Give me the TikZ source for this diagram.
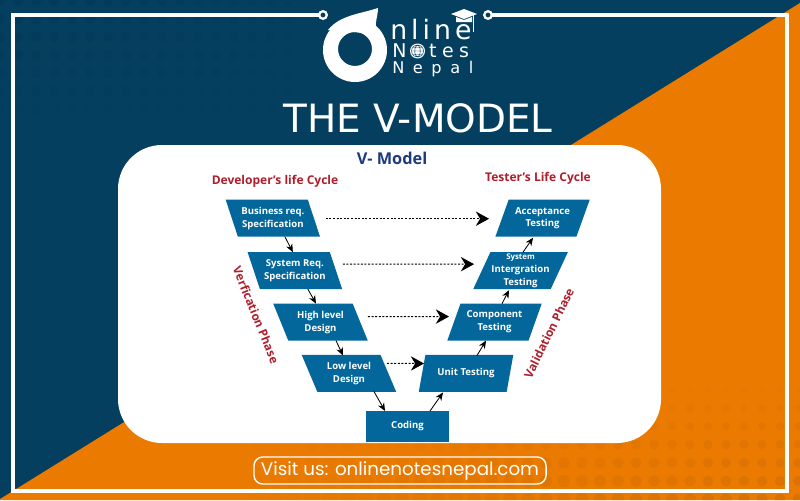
\documentclass[tikz,border=0pt]{standalone}
\usepackage{fontspec}
\setmainfont{Open Sans}
\newfontfamily\titlefont{DejaVu Sans}
\newfontfamily\visitfont{Poppins}
\usepackage{xcolor}
\usetikzlibrary{arrows.meta, positioning, shapes.geometric, calc}
\definecolor{navybg}{HTML}{043F5F}
\definecolor{navydot}{HTML}{033959}
\definecolor{orangebg}{HTML}{EA7A00}
\definecolor{orangedot}{HTML}{D87104}
\definecolor{boxblue}{HTML}{04679C}
\definecolor{headblue}{HTML}{1D3B7C}
\definecolor{headred}{HTML}{B01E2C}

\begin{document}
\begin{tikzpicture}[
    x=0.025cm, y=-0.025cm,
    stagebox/.style={fill=boxblue, text=white, align=center, inner sep=0pt, outer sep=0pt, trapezium stretches=true, shape=trapezium, minimum width=2.37cm, minimum height=0.925cm, font=\fontsize{6.8}{9.2}\selectfont\bfseries},
    devbox/.style={stagebox, trapezium left angle=116, trapezium right angle=64},
    testbox/.style={stagebox, trapezium left angle=64, trapezium right angle=116},
    codebox/.style={fill=boxblue, text=white, inner sep=0pt, outer sep=0pt, minimum width=2.075cm, minimum height=0.775cm, font=\fontsize{6.8}{9.2}\selectfont\bfseries},
    flow/.style={-{Stealth[length=0.2cm, width=0.17cm]}, line width=0.6pt},
    dotflow/.style={-{Stealth[length=0.33cm, width=0.36cm]}, line width=0.7pt, dash pattern=on 0.05cm off 0.04cm},
    cycle label/.style={text=headred, font=\fontsize{8.55}{11}\selectfont\bfseries},
    phase label/.style={text=headred, font=\fontsize{8.4}{11}\selectfont\bfseries},
    logo text/.style={text=white, anchor=west, inner sep=0pt}
]
\useasboundingbox (0,0) rectangle (800,500);
\fill[navybg] (0,0) rectangle (800,500);
\begin{scope}
\clip (0,0) -- (800,3) -- (0,499) -- cycle;
\foreach \col in {0,...,16} \foreach \row in {0,...,6}
  \fill[navydot, opacity={(1-\row/7)*(1-\col/20)}] ({\col*18},{\row*18+1}) circle (5);
\end{scope}
\fill[orangebg] (800,3) -- (800,500) -- (0,500) -- (0,499) -- cycle;
\begin{scope}
\clip (800,3) -- (800,500) -- (0,500) -- (0,499) -- cycle;
\foreach \col in {0,...,30} \foreach \row in {0,...,6}
  \fill[orangedot, opacity={(0.15+\row/7.5)*(1-\col/31)}] ({798-\col*18},{390+\row*18.2}) circle ({3+0.4*\row+\col/12});
\end{scope}

\draw[white, line width=2.8pt] (323,15) -- (13,15) -- (13,491) -- (787,491) -- (787,15) -- (488,15);
\draw[white, line width=1.6pt, fill=navybg] (323,15) circle (3.8) (488,15) circle (3.8);
\fill[white, rounded corners=1.1cm] (118,145) rectangle (661,443);

\fill[white, even odd rule] (355,50) circle (32) (355,49) circle (17);
\fill[white] (328,30) .. controls (340,15) and (360,14) .. (378,8) .. controls (378,18) and (372,28) .. (380,34) -- cycle;
\node[logo text, font=\titlefont\fontsize{19}{19}\selectfont\addfontfeature{LetterSpace=15}] (logoline) at (390,30) {nline};
\node[logo text, font=\titlefont\fontsize{13.5}{14}\selectfont\addfontfeature{LetterSpace=29}] (logonotes) at (392,51) {Notes};
\node[logo text, font=\titlefont\fontsize{11.5}{12}\selectfont\addfontfeature{LetterSpace=53}] (logonepal) at (392,69) {Nepal};
\fill[white] (451,14) -- (464,9) -- (477,14) -- (464,19) -- cycle (456,17) -- (464,20) -- (472,17) -- (472,22) -- (456,22) -- cycle;
\draw[white, line width=0.6pt] (473,15) -- (473,32);
\fill[white] (417.5,51) circle (7.5);
\draw[navybg, line width=0.35pt] (417.5,51) circle (6) (417.5,51) ellipse (2.7 and 6) (411.5,51) -- (423.5,51) (412.5,47.5) -- (422.5,47.5) (412.5,54.5) -- (422.5,54.5);

\node[text=white, font=\titlefont\fontsize{27.7}{30}\selectfont] (title) at (418,118) {THE V-MODEL};
\node[text=headblue, font=\fontsize{11.6}{13}\selectfont\bfseries] (vmodel) at (392,158) {V- Model};
\node[cycle label] (devcycle) at (275,181) {Developer's life Cycle};
\node[cycle label] (testcycle) at (538,178) {Tester's Life Cycle};
\node[phase label, rotate=-68] (verif) at (256,315) {Verfication Phase};
\node[phase label, rotate=64] (valid) at (549,333) {Validation Phase};

\node[codebox] (coding) at (407.5,426.5) {Coding};
\node[devbox, above=0.475cm of coding, xshift=-1.4625cm] (low) {Low level\\Design};
\node[devbox, above=0.36cm of low, xshift=-0.7125cm] (high) {High level\\Design};
\node[devbox, above=0.36cm of high, xshift=-0.64cm] (sysreq) {System Req.\\Specification};
\node[devbox, above=0.385cm of sysreq, xshift=-0.55cm] (business) {Business req.\\Specification};
\node[testbox, above=0.475cm of coding, xshift=1.4625cm] (unit) {Unit Testing};
\node[testbox, above=0.36cm of unit, xshift=0.7125cm] (component) {Component\\Testing};
\node[testbox, above=0.36cm of component, xshift=0.65cm] (integration) {{\fontsize{5.6}{7}\selectfont System}\\Intergration\\Testing};
\node[testbox, above=0.385cm of integration, xshift=0.55cm] (acceptance) {Acceptance\\Testing};

\draw[flow] ($(business)+(12,18.5)$) -- ($(sysreq)+(-2,-18.5)$);
\draw[flow] ($(sysreq)+(13,18.5)$) -- ($(high)+(-4.5,-18.5)$);
\draw[flow] ($(high)+(15.5,18.5)$) -- ($(low)+(-6,-18)$);
\draw[flow] ($(low)+(25,18)$) -- ($(coding)+(-22.5,-15.5)$);
\draw[flow] ($(coding)+(22.5,-15.5)$) -- ($(unit)+(-23,19)$);
\draw[flow] ($(unit)+(11,-18)$) -- ($(component)+(-8.5,18.5)$);
\draw[flow] ($(component)+(7.5,-18.5)$) -- ($(integration)+(-11.5,19.5)$);
\draw[flow] ($(integration)+(2.5,-18.5)$) -- ($(acceptance)+(-9.5,19.5)$);
\draw[dotflow] ($(business)+(53,0.5)$) -- ($(acceptance)+(-53.5,0.5)$);
\draw[dotflow] ($(sysreq)+(48,-6.5)$) -- ($(integration)+(-46.5,-6.5)$);
\draw[dotflow] ($(high)+(47.5,-5.5)$) -- ($(component)+(-45.5,-5.5)$);
\draw[dotflow] ($(low)+(38,-10)$) -- ($(unit)+(-42,-10)$);

\node[draw=white, line width=1pt, rounded corners=0.22cm, text=white, minimum width=7.3cm, minimum height=0.675cm, inner sep=0pt, font=\visitfont\fontsize{13}{15}\selectfont] (visit) at (400,470.5) {Visit us: onlinenotesnepal.com};
\end{tikzpicture}
\end{document}
